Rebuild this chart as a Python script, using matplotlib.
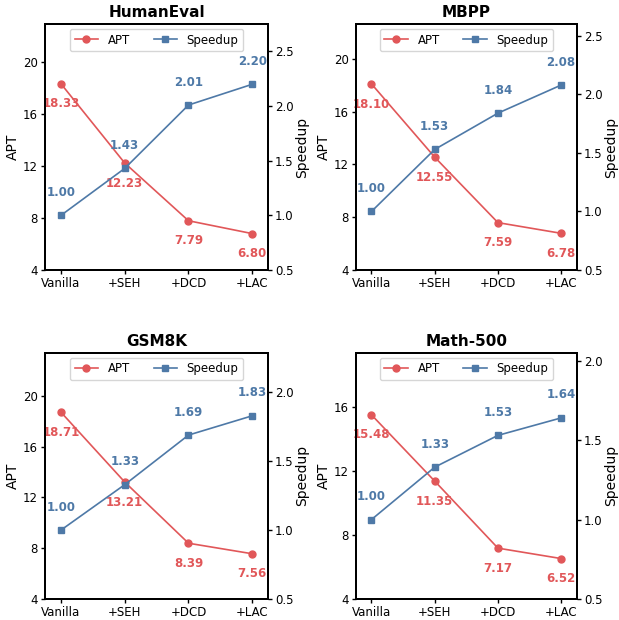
import matplotlib.pyplot as plt
from matplotlib.ticker import MultipleLocator

methods = ["Vanilla", "+SEH", "+DCD", "+LAC"]
datasets = ["HumanEval", "MBPP", "GSM8K", "Math-500"]
apt = {
    "HumanEval": [18.33, 12.23, 7.79, 6.80],
    "MBPP": [18.10, 12.55, 7.59, 6.78],
    "GSM8K": [18.71, 13.21, 8.39, 7.56],
    "Math-500": [15.48, 11.35, 7.17, 6.52],
}
speedup = {
    "HumanEval": [1.00, 1.43, 2.01, 2.20],
    "MBPP": [1.00, 1.53, 1.84, 2.08],
    "GSM8K": [1.00, 1.33, 1.69, 1.83],
    "Math-500": [1.00, 1.33, 1.53, 1.64],
}

red = "#E15759"
blue = "#4E79A7"

fig = plt.figure(figsize=(6.19, 6.2), dpi=100)
positions = [
    [0.0727, 0.5645, 0.3606, 0.3965],
    [0.5746, 0.5645, 0.3575, 0.3965],
    [0.0727, 0.0339, 0.3606, 0.3971],
    [0.5746, 0.0339, 0.3575, 0.3971],
]

x = list(range(len(methods)))
for name, pos in zip(datasets, positions):
    ax = fig.add_axes(pos)
    ax2 = ax.twinx()
    l1, = ax.plot(x, apt[name], color=red, marker="o", markersize=5, linewidth=1.2, label="APT")
    l2, = ax2.plot(x, speedup[name], color=blue, marker="s", markersize=5, linewidth=1.2, label="Speedup")
    ax.set_ylim(4, max(apt[name]) * 1.25)
    ax2.set_ylim(0.5, max(speedup[name]) * 1.25)
    ax.yaxis.set_major_locator(MultipleLocator(4))
    ax2.yaxis.set_major_locator(MultipleLocator(0.5))
    ax.set_xlim(-0.25, 3.25)
    ax.set_xticks(x)
    ax.set_xticklabels(methods)
    ax.set_ylabel("APT", fontsize=10, labelpad=2)
    ax2.set_ylabel("Speedup", fontsize=10, labelpad=1)
    ax.set_title(name, fontsize=11, fontweight="bold", pad=5)
    for a in (ax, ax2):
        a.tick_params(labelsize=8.5, length=3, width=1, pad=2)
        for s in a.spines.values():
            s.set_linewidth(1.4)
    for xi, v in zip(x, apt[name]):
        ax.annotate(f"{v:.2f}", (xi, v), xytext=(0, -14.5), textcoords="offset points",
                    ha="center", va="center", color=red, fontsize=8.5, fontweight="bold")
    for xi, v in zip(x, speedup[name]):
        ax2.annotate(f"{v:.2f}", (xi, v), xytext=(0, 16.5), textcoords="offset points",
                     ha="center", va="center", color=blue, fontsize=8.5, fontweight="bold")
    ax.legend([l1, l2], ["APT", "Speedup"], loc="upper center", ncol=2, fontsize=8.5,
              borderaxespad=0.4)

fig.savefig("out.png", dpi=100)
